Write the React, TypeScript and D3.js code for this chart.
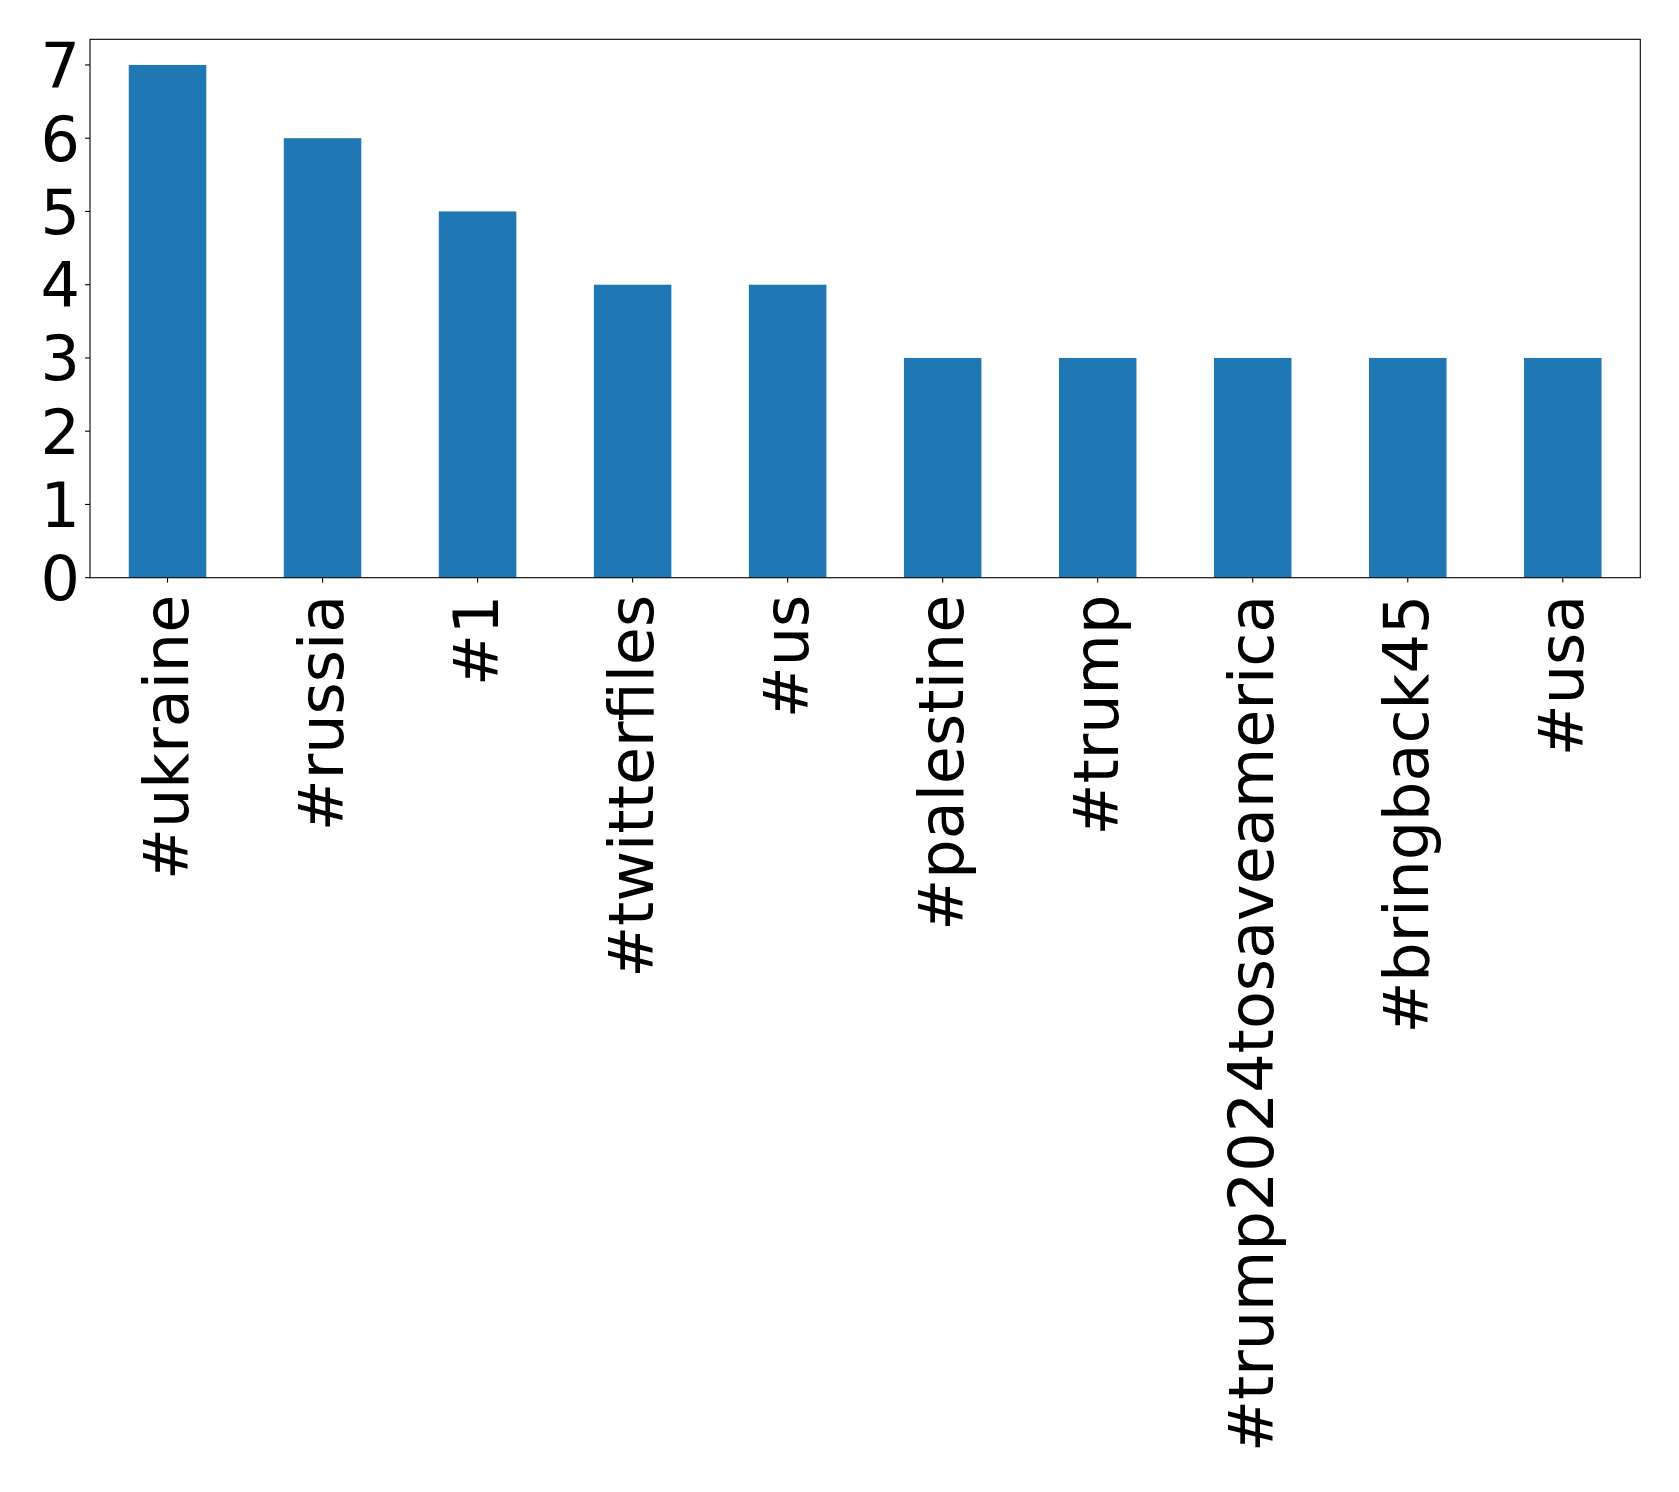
import React from "react";
import * as d3 from "d3";

const categories = ["#ukraine", "#russia", "#1", "#twitterfiles", "#us", "#palestine", "#trump", "#trump2024tosaveamerica", "#bringback45", "#usa"];
const counts = [7, 6, 5, 4, 4, 3, 3, 3, 3, 3];
const yTicks = [0, 1, 2, 3, 4, 5, 6, 7];

const W = 1679, H = 1492;
const L = 90, R = 1640.3, T = 39.3, B = 577.7;
const FS = 62;
const FONT = "'DejaVu Sans', sans-serif";

export default function App() {
  const x = d3.scaleBand<string>().domain(categories).range([L, R]).padding(0);
  const y = d3.scaleLinear().domain([0, 7.35]).range([B, T]);
  const bw = x.bandwidth() * 0.5;
  return (
    <svg width={W} height={H} style={{ position: "absolute", left: 0, top: 0, background: "#fff" }}>
      <rect x={0} y={0} width={W} height={H} fill="#fff" />
      {categories.map((c, i) => (
        <rect key={c} x={x(c)! + x.bandwidth() / 2 - bw / 2} y={y(counts[i])} width={bw} height={B - y(counts[i])} fill="#1f77b4" />
      ))}
      <rect x={L} y={T} width={R - L} height={B - T} fill="none" stroke="#000" strokeWidth={1.1} />
      {yTicks.map((t) => (
        <g key={t}>
          <line x1={L - 4.9} x2={L} y1={y(t)} y2={y(t)} stroke="#000" strokeWidth={1.1} />
          <text x={L - 10} y={y(t)} dy="0.36em" textAnchor="end" fontFamily={FONT} fontSize={FS} fill="#000">{t}</text>
        </g>
      ))}
      {categories.map((c) => {
        const cx = x(c)! + x.bandwidth() / 2;
        return (
          <g key={c}>
            <line x1={cx} x2={cx} y1={B} y2={B + 4.9} stroke="#000" strokeWidth={1.1} />
            <text transform={`translate(${cx},${B + 17}) rotate(-90)`} dy={20.3} textAnchor="end" fontFamily={FONT} fontSize={FS} fill="#000">{c}</text>
          </g>
        );
      })}
    </svg>
  );
}
